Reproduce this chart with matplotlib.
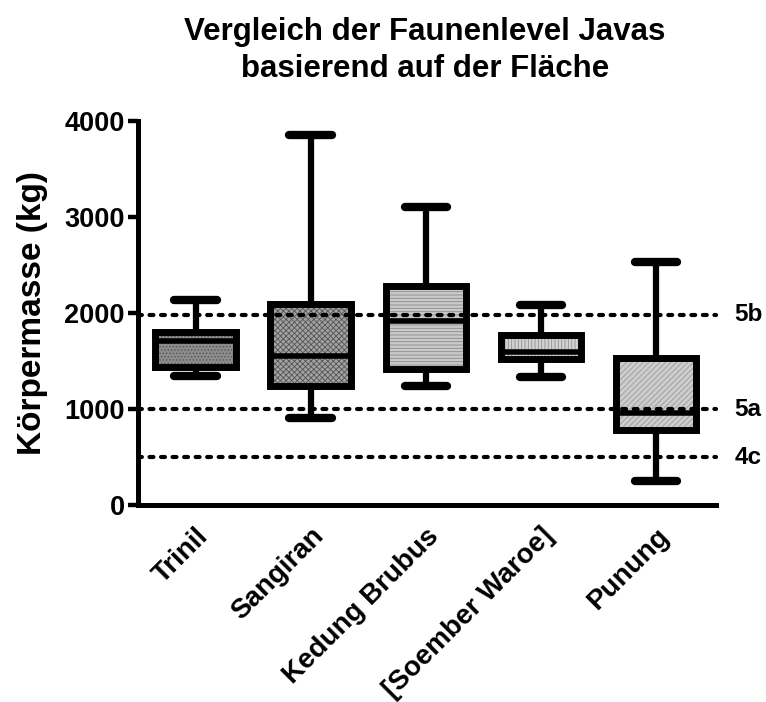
import matplotlib
matplotlib.use("Agg")
import matplotlib.pyplot as plt
import matplotlib.colors as mcolors
import matplotlib.transforms as mtransforms

plt.rcParams['font.family'] = ['Liberation Sans', 'DejaVu Sans']
plt.rcParams['font.weight'] = 'bold'
plt.rcParams['hatch.linewidth'] = 0.6
plt.rcParams['lines.scale_dashes'] = False

# Body mass per fauna level (kg): whiskers, quartiles, median
sites = ['Trinil', 'Sangiran', 'Kedung Brubus', '[Soember Waroe]', 'Punung']
whislo = [1340, 910, 1240, 1330, 250]
q1 = [1440, 1240, 1420, 1520, 780]
med = [1710, 1550, 1920, 1590, 960]
q3 = [1800, 2090, 2280, 1770, 1530]
whishi = [2140, 3850, 3100, 2080, 2530]

# Reference levels
level_names = ['5b', '5a', '4c']
level_values = [1980, 1000, 500]

face_colors = ['#8c8c8c', '#a2a2a2', '#c9c9c9', '#d2d2d2', '#cdcdcd']
hatch_colors = ['#555555', '#555555', '#8a8a8a', '#8f8f8f', '#9a9a9a']
hatches = ['.....', 'xxxxxx', '-----', '|||||', '//////']

stats = [
    dict(label=s, whislo=lo, q1=a, med=m, q3=b, whishi=hi, fliers=[])
    for s, lo, a, m, b, hi in zip(sites, whislo, q1, med, q3, whishi)
]

fig = plt.figure(figsize=(7.66, 7.02), dpi=100)
ax = fig.add_axes([138 / 766, 1 - 505 / 702, (716 - 138) / 766, (505 - 121) / 702])

lw = 5.0
bp = ax.bxp(
    stats, positions=range(len(sites)), widths=0.7, patch_artist=True,
    showfliers=False,
    boxprops=dict(linewidth=lw, edgecolor='black', joinstyle='miter'),
    whiskerprops=dict(linewidth=4.5, color='black', solid_capstyle='butt'),
    capprops=dict(linewidth=6, color='black', solid_capstyle='round'),
    medianprops=dict(linewidth=4, color='black', solid_capstyle='butt'),
    capwidths=0.37,
)
for box, fc, hc, h in zip(bp['boxes'], face_colors, hatch_colors, hatches):
    box.set_facecolor(fc)
    box.set_hatch(h)
    box._hatch_color = mcolors.to_rgba(hc)
    box.set_zorder(2)
for ln in bp['medians']:
    ln.set_zorder(4)

for name, val in zip(level_names, level_values):
    ax.axhline(val, color='black', linewidth=3, dashes=(2.8, 5.5),
               dash_capstyle='round', zorder=3, clip_on=False)
    ax.text(1.032, val, name, transform=ax.get_yaxis_transform(),
            ha='left', va='center', fontsize=17.5, fontweight='bold')

ax.set_xlim(-0.5, 4.52)
ax.set_ylim(0, 4000)
ax.set_yticks([0, 1000, 2000, 3000, 4000])
ax.set_xticks(range(len(sites)))
ax.set_xticklabels(sites, rotation=45, ha='right', va='top',
                   rotation_mode='anchor', fontsize=20, fontweight='bold')
offset = mtransforms.ScaledTranslation(13 / 100, 0, fig.dpi_scale_trans)
for lab in ax.get_xticklabels():
    lab.set_transform(lab.get_transform() + offset)

ax.tick_params(axis='x', length=0, pad=13)
ax.tick_params(axis='y', length=7, width=3.2, pad=2.5, labelsize=19.5)
for lab in ax.get_yticklabels():
    lab.set_fontweight('bold')

for side in ('top', 'right'):
    ax.spines[side].set_visible(False)
for side in ('left', 'bottom'):
    ax.spines[side].set_linewidth(3.6)
    ax.spines[side].set_capstyle('projecting')

ax.set_ylabel('Körpermasse (kg)', fontsize=24, fontweight='bold', labelpad=12)

fig.text(0.555, 0.976, 'Vergleich der Faunenlevel Javas\nbasierend auf der Fläche',
         ha='center', va='top', fontsize=22.5, fontweight='bold', linespacing=1.3)

fig.savefig('out.png', dpi=100)
